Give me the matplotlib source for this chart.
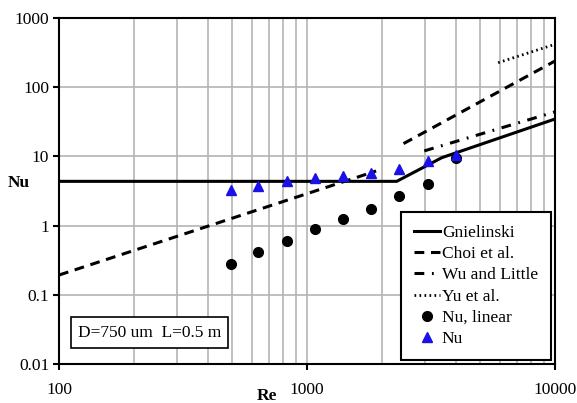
import numpy as np
import matplotlib
matplotlib.use("Agg")
import matplotlib.pyplot as plt
from matplotlib.ticker import LogLocator, NullFormatter, FixedLocator, FixedFormatter

plt.rcParams['font.family'] = ['Liberation Serif', 'DejaVu Serif']

# correlations
gn_re = [100, 2300, 3500, 10000]
gn_nu = [4.36, 4.36, 9.6, 34.7]

choi_lam_re = [100, 1900]
choi_lam_nu = [0.193, 6.15]
choi_turb_re = [2450, 10000]
choi_turb_nu = [15.3, 239]

wu_re = [2970, 10000]
wu_nu = [12.0, 44.0]

yu_re = [5900, 10000]
yu_nu = [226, 417]

# measured data
re_exp = [494, 636, 828, 1077, 1393, 1816, 2355, 3062, 3981]
nu_linear = [0.281, 0.411, 0.605, 0.884, 1.23, 1.74, 2.65, 3.93, 9.39]
nu_exp = [3.27, 3.77, 4.46, 4.83, 5.26, 5.70, 6.51, 8.67, 10.5]

fs = 12.5

fig = plt.figure(figsize=(5.77, 4.03), dpi=100)
ax = fig.add_axes([59/577, 1-364/403, 496/577, 346/403])

ax.plot(gn_re, gn_nu, color='black', lw=2.2, label='Gnielinski', zorder=3)
ax.plot(choi_lam_re, choi_lam_nu, color='black', lw=2.2, dashes=(3.2, 2.2), label='Choi et al.', zorder=3)
ax.plot(choi_turb_re, choi_turb_nu, color='black', lw=2.2, dashes=(3.2, 2.2), zorder=3)
ax.plot(wu_re, wu_nu, color='black', lw=2.2, dashes=(3.2, 2.5, 0.6, 2.5), label='Wu and Little', zorder=3)
ax.plot(yu_re, yu_nu, color='black', lw=2.0, dashes=(0.6, 1.2), label='Yu et al.', zorder=3)
ax.plot(re_exp, nu_linear, 'o', color='black', ms=7, ls='none', label='Nu, linear', zorder=4)
ax.plot(re_exp, nu_exp, '^', color='#1a10e8', ms=7.5, ls='none', label='Nu', zorder=4)

ax.set_xscale('log')
ax.set_yscale('log')
ax.set_xlim(100, 10000)
ax.set_ylim(0.01, 1000)

ax.xaxis.set_major_locator(FixedLocator([100, 1000, 10000]))
ax.xaxis.set_major_formatter(FixedFormatter(['100', '1000', '10000']))
ax.xaxis.set_minor_locator(LogLocator(base=10, subs=np.arange(2, 10)))
ax.xaxis.set_minor_formatter(NullFormatter())
ax.yaxis.set_major_locator(FixedLocator([0.01, 0.1, 1, 10, 100, 1000]))
ax.yaxis.set_major_formatter(FixedFormatter(['0.01', '0.1', '1', '10', '100', '1000']))
ax.yaxis.set_minor_locator(FixedLocator([]))

ax.grid(True, which='major', color='#b4b4b4', lw=1.2)
ax.grid(True, which='minor', axis='x', color='#b4b4b4', lw=1.2)
ax.set_axisbelow(True)

ax.tick_params(axis='x', which='major', direction='out', length=4, width=1.5, pad=9, labelsize=fs)
ax.tick_params(axis='x', which='minor', length=0)
ax.tick_params(axis='y', which='major', direction='out', length=4, width=1.5, pad=3, labelsize=fs)
for s in ax.spines.values():
    s.set_linewidth(1.5)

ax.set_ylabel('Nu', rotation=0, fontweight='bold', fontsize=fs, va='center', ha='center')
ax.yaxis.set_label_coords(-0.081, 0.523)
ax.set_xlabel('Re', fontweight='bold', fontsize=fs)
ax.xaxis.set_label_coords(0.419, -0.068)

ax.text(0.038, 0.091, 'D=750 um  L=0.5 m', transform=ax.transAxes, fontsize=fs,
        va='center', ha='left',
        bbox=dict(boxstyle='square,pad=0.42', fc='white', ec='black', lw=1.2))

leg = ax.legend(loc='lower right', bbox_to_anchor=(0.992, 0.0116), fontsize=fs,
                frameon=True, fancybox=False, shadow=False, handlelength=1.5,
                handletextpad=0.1, labelspacing=0.29, borderpad=0.75, borderaxespad=0)
leg.get_frame().set_edgecolor('black')
leg.get_frame().set_linewidth(1.5)
leg.get_frame().set_alpha(1)

fig.savefig('out.png', dpi=100)
